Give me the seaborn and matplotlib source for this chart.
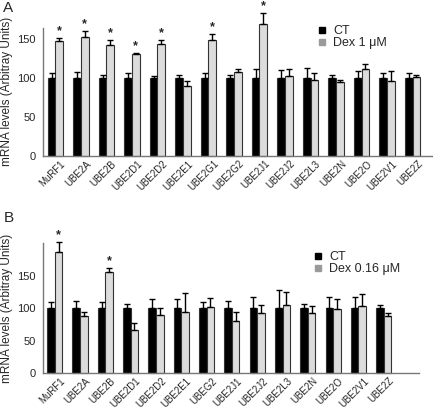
import numpy as np
import pandas as pd
import matplotlib
matplotlib.use("Agg")
import matplotlib.pyplot as plt
import matplotlib.transforms as mtransforms
from matplotlib.lines import Line2D
import seaborn as sns

genes_a = ["MuRF1", "UBE2A", "UBE2B", "UBE2D1", "UBE2D2", "UBE2E1", "UBE2G1", "UBE2G2",
           "UBE2J1", "UBE2J2", "UBE2L3", "UBE2N", "UBE2O", "UBE2V1", "UBE2Z"]
ct_a = [100, 100, 100, 100, 100, 100, 100, 100, 100, 100, 100, 100, 100, 100, 100]
ct_a_err = [6, 7.5, 3, 6, 2, 3, 6.5, 3, 11, 10.5, 13, 4, 9, 5.5, 6]
dex_a = [147, 152.5, 142, 130.5, 143, 89.5, 148, 108, 169, 102.5, 97.5, 94, 111.5, 96.5, 100.5]
dex_a_err = [3.5, 7, 6, 1.5, 5.5, 6, 8.5, 3, 14, 8.5, 9, 3, 6, 12, 3.5]
sig_a = [1, 1, 1, 1, 1, 0, 1, 0, 1, 0, 0, 0, 0, 0, 0]

genes_b = ["MuRF1", "UBE2A", "UBE2B", "UBE2D1", "UBE2D2", "UBE2E1", "UBEG2",
           "UBE2J1", "UBE2J2", "UBE2L3", "UBE2N", "UBE2O", "UBE2V1", "UBE2Z"]
ct_b = [100, 100, 100, 100, 100, 100, 100, 100, 100, 100, 100, 100, 100, 100]
ct_b_err = [10, 11, 9, 7, 14.5, 15, 9, 11, 17, 28, 6.5, 18, 17, 5.5]
dex_b = [187, 88.5, 156, 67, 89.5, 94, 102, 80, 92, 105.5, 93, 98.5, 103.5, 88]
dex_b_err = [15, 5.5, 6, 10, 11, 30, 13.5, 14, 12.5, 19, 11, 15.5, 18.5, 4.5]
sig_b = [1, 0, 1, 0, 0, 0, 0, 0, 0, 0, 0, 0, 0, 0]

sns.set_style("white")
plt.rcParams["font.family"] = ["Liberation Sans", "DejaVu Sans"]

fig = plt.figure(figsize=(4.33, 4.09), dpi=100)
ax_a = fig.add_axes([0.099, 0.619, 0.901, 0.313])
ax_b = fig.add_axes([0.099, 0.088, 0.869, 0.318])

BLACK = "#000000"
GREY = "#dcdcdc"


def panel(ax, genes, ct, ct_err, dex, dex_err, sig, dex_label, ymax, xlim, yticks):
    df = pd.DataFrame({
        "gene": genes * 2,
        "value": list(ct) + list(dex),
        "err": list(ct_err) + list(dex_err),
        "group": ["CT"] * len(genes) + [dex_label] * len(genes),
    })
    sns.barplot(data=df, x="gene", y="value", hue="group", order=genes,
                hue_order=["CT", dex_label], palette=[BLACK, GREY],
                width=0.6, errorbar=None, edgecolor="#333333", linewidth=0.8,
                ax=ax, legend=False, saturation=1)
    patches = [p for p in ax.patches if p.get_width() > 0]
    n = len(genes)
    ct_p = patches[:n]
    dx_p = patches[n:2 * n]
    xs_ct = [p.get_x() + p.get_width() / 2 for p in ct_p]
    xs_dx = [p.get_x() + p.get_width() / 2 for p in dx_p]
    ax.errorbar(xs_ct, ct, yerr=[np.zeros(n), ct_err], fmt="none", ecolor="#000000",
                elinewidth=1.0, capsize=2.5, capthick=1.0, clip_on=False)
    ax.errorbar(xs_dx, dex, yerr=[np.zeros(n), dex_err], fmt="none", ecolor="#000000",
                elinewidth=1.0, capsize=2.5, capthick=1.0, clip_on=False)
    for x, v, e, s in zip(xs_dx, dex, dex_err, sig):
        if s:
            ax.text(x, v + e + 1, "*", ha="center", va="bottom", fontsize=9,
                    fontweight="bold", clip_on=False)
    for p in ax.patches:
        p.set_clip_on(False)
    ax.set_ylim(0, ymax)
    ax.set_xlim(*xlim)
    ax.set_yticks(yticks)
    ax.set_xlabel("")
    ax.set_ylabel("mRNA levels (Arbitray Units)", fontsize=8.5, labelpad=3)
    ax.tick_params(axis="y", length=3, width=0.8, color="#777777", labelsize=8, pad=2)
    ax.tick_params(axis="x", length=0, labelsize=7, pad=2)
    offset = mtransforms.ScaledTranslation(5 / 100, 0, fig.dpi_scale_trans)
    for lbl in ax.get_xticklabels():
        lbl.set_rotation(45)
        lbl.set_ha("right")
        lbl.set_rotation_mode("anchor")
        lbl.set_transform(lbl.get_transform() + offset)
    for side in ["top", "right"]:
        ax.spines[side].set_visible(False)
    for side in ["left", "bottom"]:
        ax.spines[side].set_color("#777777")
        ax.spines[side].set_linewidth(1.0)
    handles = [Line2D([], [], marker="s", ls="none", color=BLACK, markersize=5),
               Line2D([], [], marker="s", ls="none", color="#9a9a9a", markersize=5)]
    return handles


h = panel(ax_a, genes_a, ct_a, ct_a_err, dex_a, dex_a_err, sig_a, "Dex 1 μM",
          164, (-0.49, 14.8), [0, 50, 100, 150])
ax_a.legend(h, ["CT", "Dex 1 μM"], loc="upper left", bbox_to_anchor=(0.69, 1.07),
            frameon=False, fontsize=9, handlelength=0.6, handletextpad=0.6,
            labelspacing=0.0, borderpad=0)

h = panel(ax_b, genes_b, ct_b, ct_b_err, dex_b, dex_b_err, sig_b, "Dex 0.16 μM",
          201, (-0.47, 14.4), [0, 50, 100, 150])
ax_b.legend(h, ["CT", "Dex 0.16 μM"], loc="upper left", bbox_to_anchor=(0.705, 0.985),
            frameon=False, fontsize=9, handlelength=0.6, handletextpad=0.6,
            labelspacing=0.0, borderpad=0)

fig.text(0.008, 0.998, "A", fontsize=11, va="top", ha="left")
fig.text(0.008, 0.483, "B", fontsize=11, va="top", ha="left")

fig.savefig("out.png", dpi=100)
